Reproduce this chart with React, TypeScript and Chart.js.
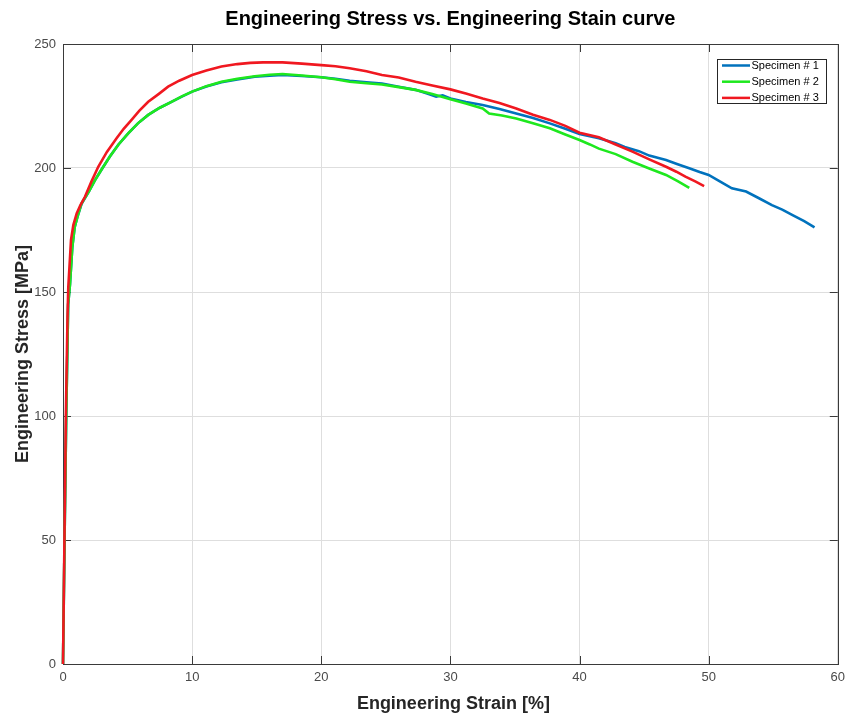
import React, { useEffect, useRef } from "react";
import { Chart, registerables } from "chart.js";

Chart.register(...registerables);

const TITLE = "Engineering Stress vs. Engineering Stain curve";
const X_TITLE = "Engineering Strain [%]";
const Y_TITLE = "Engineering Stress [MPa]";
const SERIES_NAMES = ["Specimen # 1", "Specimen # 2", "Specimen # 3"];
const SERIES_COLORS = ["#0072BD", "#1EE81E", "#F01820"];

const X_MIN = 0, X_MAX = 60, X_STEP = 10;
const Y_MIN = 0, Y_MAX = 250, Y_STEP = 50;

const strain1 = [0, 0.12, 0.25, 0.4, 0.54, 0.72, 0.9, 1.13, 1.44, 2, 2.47, 3, 3.63, 4.3, 5.05, 5.8, 6.6, 7.5, 8.4, 9.2, 10, 11.1, 12.27, 13.5, 14.85, 16, 17, 18.5, 20, 21.1, 22.2, 23.5, 24.7, 26, 27.3, 28.2, 28.9, 29.4, 30, 31.2, 32.5, 33.8, 35.1, 36.4, 37.7, 38.9, 40, 41.5, 42.8, 43.5, 44.6, 45.4, 46.7, 47.6, 48.5, 49.3, 50, 50.9, 51.8, 52.9, 53.9, 54.9, 55.7, 56.5, 57.4, 58.2];
const stress1 = [0, 50, 100, 145, 153, 168, 176, 180.5, 185.5, 190.5, 195, 199.5, 204.6, 209.5, 214, 218, 221.4, 224.3, 226.7, 228.8, 230.8, 232.9, 234.6, 235.7, 236.8, 237.2, 237.5, 237.1, 236.6, 236, 235.2, 234.6, 234.1, 232.8, 231.5, 230, 228.8, 229.3, 228, 226.6, 225.4, 223.8, 222, 220.2, 218, 215.8, 213.7, 212, 210, 208.5, 206.8, 205, 203.2, 201.5, 199.9, 198.4, 197.2, 194.5, 191.8, 190.5, 187.8, 185, 183.2, 181, 178.6, 176.1];

const strain2 = [0, 0.12, 0.25, 0.4, 0.54, 0.72, 0.9, 1.13, 1.44, 2, 2.47, 3, 3.63, 4.3, 5.05, 5.8, 6.6, 7.5, 8.4, 9.2, 10, 11.1, 12.27, 13.5, 14.85, 16, 17, 18.5, 20, 21.1, 22.2, 23.5, 24.7, 26, 27.3, 28.6, 30, 31.2, 32.5, 33, 34, 35.1, 36.4, 37.7, 38.9, 40, 40.8, 41.5, 42.8, 44.1, 45.4, 46.7, 47.6, 48.5];
const stress2 = [0, 50, 100, 145, 153, 168, 176, 180.5, 185.8, 190.5, 195, 199.5, 204.6, 209.5, 214, 218, 221.4, 224.3, 226.7, 228.9, 230.8, 233, 234.8, 236, 237, 237.6, 237.9, 237.3, 236.6, 235.8, 234.8, 234.2, 233.7, 232.6, 231.5, 229.8, 227.7, 226, 224, 222, 221.2, 220, 218, 216, 213.5, 211.3, 209.5, 207.8, 205.6, 202.5, 199.8, 197.2, 194.7, 192];

const strain3 = [0, 0.1, 0.22, 0.35, 0.41, 0.62, 0.8, 1.06, 1.35, 1.7, 2.2, 2.73, 3.4, 4.15, 4.7, 5.31, 5.9, 6.6, 7.4, 8.14, 9, 10, 11.1, 12.27, 13.5, 14.5, 15.5, 17, 18.5, 20, 21.1, 22.2, 23.5, 24.7, 26, 27.3, 28.6, 30, 31.2, 32.5, 33.8, 35.1, 36.4, 37.7, 38.9, 40, 41.5, 42.8, 44.1, 45.4, 46.7, 47.5, 48.2, 49, 49.65];
const stress3 = [0, 45, 100, 140, 152, 171, 177, 181.7, 185, 188.4, 194.5, 200.5, 206.5, 212, 215.8, 219.4, 223, 226.7, 229.8, 232.8, 235.2, 237.5, 239.3, 240.9, 241.9, 242.4, 242.6, 242.6, 242.1, 241.5, 241, 240.2, 239, 237.5, 236.5, 234.8, 233.3, 231.7, 230, 228, 226.2, 224, 221.5, 219.4, 217, 214.2, 212.4, 209.5, 206.6, 203.5, 200.5, 198.5, 196.5, 194.5, 192.7];

const STRAINS = [strain1, strain2, strain3];
const STRESSES = [stress1, stress2, stress3];

const FONT = "'Liberation Sans', Arial, Helvetica, sans-serif";

const decorPlugin = {
  id: "decor",
  beforeDatasetsDraw(chart: any) {
    const { ctx, chartArea: a, scales } = chart;
    ctx.save();
    ctx.strokeStyle = "#3a3a3a";
    ctx.lineWidth = 1;
    const tl = 8;
    ctx.beginPath();
    scales.x.ticks.forEach((t: any) => {
      const px = Math.round(scales.x.getPixelForValue(t.value)) + 0.5;
      ctx.moveTo(px, a.bottom);
      ctx.lineTo(px, a.bottom - tl);
      ctx.moveTo(px, a.top);
      ctx.lineTo(px, a.top + tl);
    });
    scales.y.ticks.forEach((t: any) => {
      const py = Math.round(scales.y.getPixelForValue(t.value)) + 0.5;
      ctx.moveTo(a.left, py);
      ctx.lineTo(a.left + tl, py);
      ctx.moveTo(a.right, py);
      ctx.lineTo(a.right - tl, py);
    });
    ctx.stroke();
    ctx.strokeRect(Math.round(a.left) + 0.5, Math.round(a.top) + 0.5, Math.round(a.right - a.left), Math.round(a.bottom - a.top));
    ctx.restore();
  },
  afterDraw(chart: any) {
    const { ctx, chartArea: a } = chart;
    const cx = (a.left + a.right) / 2;
    const cy = (a.top + a.bottom) / 2;
    ctx.save();
    ctx.fillStyle = "#000";
    ctx.font = `bold 20px ${FONT}`;
    ctx.textAlign = "center";
    ctx.textBaseline = "alphabetic";
    ctx.fillText(TITLE, cx, 25);
    ctx.fillStyle = "#262626";
    ctx.font = `bold 18px ${FONT}`;
    ctx.fillText(X_TITLE, cx + 3, 709);
    ctx.save();
    ctx.translate(28, cy);
    ctx.rotate(-Math.PI / 2);
    ctx.fillText(Y_TITLE, 0, 0);
    ctx.restore();
    const bx = 717, by = 59, bw = 109, bh = 44;
    ctx.fillStyle = "#fff";
    ctx.fillRect(bx, by, bw, bh);
    ctx.strokeStyle = "#262626";
    ctx.lineWidth = 1;
    ctx.strokeRect(bx + 0.5, by + 0.5, bw, bh);
    ctx.font = `11px ${FONT}`;
    ctx.textAlign = "left";
    ctx.textBaseline = "middle";
    SERIES_NAMES.forEach((name, i) => {
      const y = 65.5 + i * 16.2;
      ctx.strokeStyle = SERIES_COLORS[i];
      ctx.lineWidth = 2.5;
      ctx.beginPath();
      ctx.moveTo(722, y);
      ctx.lineTo(750, y);
      ctx.stroke();
      ctx.fillStyle = "#000";
      ctx.fillText(name, 751.5, y + 0.5);
    });
    ctx.restore();
  },
};

export default function App() {
  const ref = useRef<HTMLCanvasElement | null>(null);
  useEffect(() => {
    document.body.style.margin = "0";
    document.body.style.overflow = "hidden";
    document.documentElement.style.overflow = "hidden";
    if (!ref.current) return;
    const datasets = SERIES_NAMES.map((name, i) => ({
      label: name,
      data: STRAINS[i].map((x, j) => ({ x, y: STRESSES[i][j] })),
      borderColor: SERIES_COLORS[i],
      backgroundColor: SERIES_COLORS[i],
      borderWidth: 2.6,
      pointRadius: 0,
      tension: 0,
      fill: false,
      clip: 4,
      order: SERIES_NAMES.length - i,
    }));
    const chart = new Chart(ref.current, {
      type: "line",
      data: { datasets },
      plugins: [decorPlugin],
      options: {
        responsive: false,
        animation: false,
        layout: { padding: { top: 44, right: 12, left: 0, bottom: 0 } },
        plugins: {
          legend: { display: false },
          title: { display: false },
          tooltip: { enabled: false },
        },
        scales: {
          x: {
            type: "linear",
            min: X_MIN,
            max: X_MAX,
            border: { display: false },
            grid: { color: "#dedede", lineWidth: 1, drawTicks: false },
            ticks: {
              stepSize: X_STEP,
              padding: 6,
              color: "#4a4a4a",
              font: { family: FONT, size: 13 },
            },
            afterFit(scale: any) {
              scale.height = 53;
            },
          },
          y: {
            type: "linear",
            min: Y_MIN,
            max: Y_MAX,
            border: { display: false },
            grid: { color: "#dedede", lineWidth: 1, drawTicks: false },
            ticks: {
              stepSize: Y_STEP,
              padding: 7,
              color: "#4a4a4a",
              font: { family: FONT, size: 13 },
            },
            afterFit(scale: any) {
              scale.width = 63;
            },
          },
        },
      },
    } as any);
    return () => chart.destroy();
  }, []);
  return (
    <div style={{ width: 851, height: 717, background: "#fff" }}>
      <canvas ref={ref} width={851} height={717} style={{ display: "block" }} />
    </div>
  );
}
